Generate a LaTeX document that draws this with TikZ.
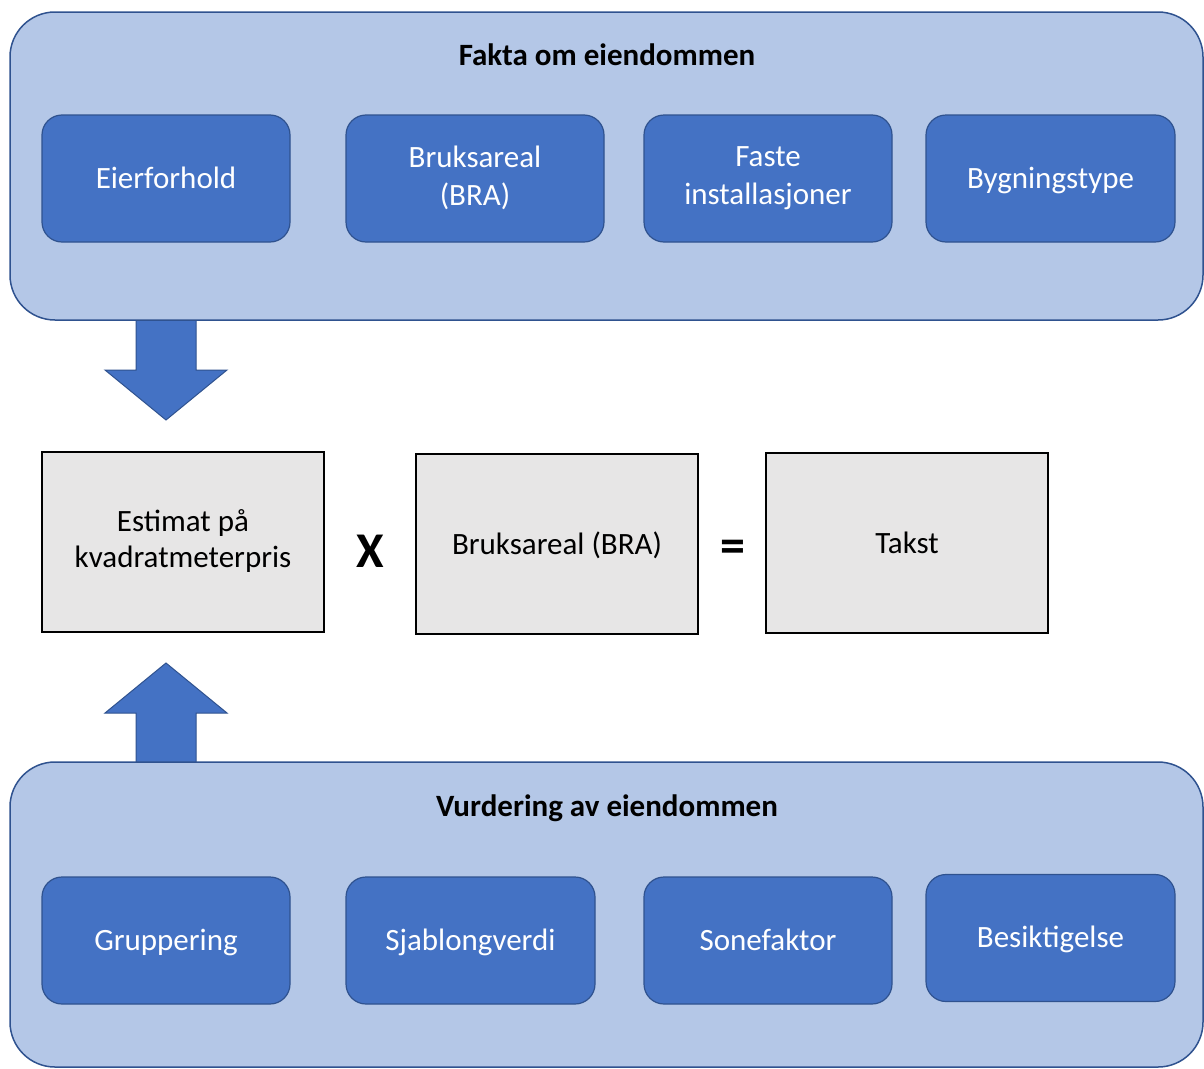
\documentclass[tikz,border=0pt]{standalone}
\usepackage{fontspec}
\setmainfont{Carlito}
\definecolor{lightblue}{HTML}{B4C7E7}
\definecolor{bordblue}{HTML}{2F528F}
\definecolor{midblue}{HTML}{4472C4}
\definecolor{boxgray}{HTML}{E7E6E6}
\newcommand\boxstrut{\rule[-5pt]{0pt}{30pt}}
\begin{document}
\begin{tikzpicture}[x=1pt,y=-1pt,
  container/.style={draw=bordblue, fill=lightblue, line width=1.5pt, rounded corners=45pt, inner sep=0pt},
  item/.style={draw=bordblue, fill=midblue, line width=1.2pt, rounded corners=20pt, text=white, align=center,
    font=\fontsize{31}{38}\selectfont, inner sep=0pt, minimum width=248pt, minimum height=127pt,
    execute at begin node=\boxstrut, execute at end node=\boxstrut},
  calcbox/.style={draw=black, fill=boxgray, line width=2pt, align=center,
    font=\fontsize{31}{36}\selectfont, inner sep=0pt, minimum width=282pt, minimum height=180pt,
    execute at begin node=\boxstrut, execute at end node=\boxstrut},
  grouptitle/.style={font=\bfseries\fontsize{31}{36}\selectfont, inner sep=0pt},
  operator/.style={font=\bfseries\fontsize{50}{60}\selectfont, inner sep=0pt},
  blockarrow/.style={fill=midblue, draw=bordblue, line width=1pt}
]
\useasboundingbox (0,0) rectangle (1204,1068);
\fill[white] (0,0) rectangle (1204,1068);

% block arrows (behind containers)
\draw[blockarrow] (136,318) -- (196,318) -- (196,370) -- (227,370) -- (166,420) -- (105,370) -- (136,370) -- cycle;
\draw[blockarrow] (166,663) -- (227,713) -- (196,713) -- (196,765) -- (136,765) -- (136,713) -- (105,713) -- cycle;

% containers
\node[container, minimum width=1193pt, minimum height=308pt] (fakta) at (606.5,166) {};
\node[container, minimum width=1193pt, minimum height=305pt] (vurdering) at (606.5,914.5) {};

\node[grouptitle] (faktatitle) at (607,55) {Fakta om eiendommen};
\node[grouptitle] (vurdtitle) at (607,808) {Vurdering av eiendommen};

% top items
\node[item] (eier) at (166,178.5) {Eierforhold};
\node[item, minimum width=258pt] (bra) at (475,178.5) {Bruksareal\\(BRA)};
\node[item] (faste) at (768,178.5) {Faste\\installasjoner};
\node[item, minimum width=249pt] (bygg) at (1050.5,178.5) {Bygningstype};

% bottom items
\node[item] (grupp) at (166,940.5) {Gruppering};
\node[item, minimum width=249pt] (sjab) at (470.5,940.5) {Sjablongverdi};
\node[item] (sone) at (768,940.5) {Sonefaktor};
\node[item, minimum width=249pt] (besik) at (1050.5,938) {Besiktigelse};

% formula row
\node[calcbox] (estimat) at (183,541.5) {Estimat på\\kvadratmeterpris};
\node[operator] (times) at (370,551) {X};
\node[calcbox] (brabox) at (557,544) {Bruksareal (BRA)};
\node[operator] (equals) at (733,551) {=};
\node[calcbox] (takst) at (907,543) {Takst};
\end{tikzpicture}
\end{document}
